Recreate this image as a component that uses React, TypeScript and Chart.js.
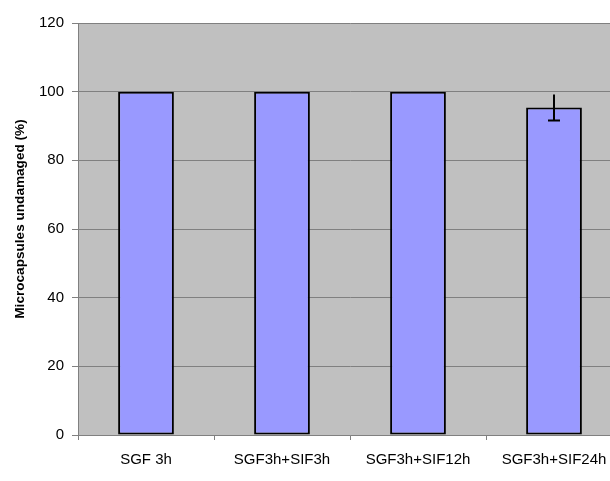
import React, { useEffect, useRef } from "react";
import { Chart, registerables } from "chart.js";

Chart.register(...registerables);

const categories = ["SGF 3h", "SGF3h+SIF3h", "SGF3h+SIF12h", "SGF3h+SIF24h"];
const undamaged = [100, 100, 100, 95.4];
const errors = [0, 0, 0, 3.8];
const yTicks = [0, 20, 40, 60, 80, 100, 120];
const yTitle = "Microcapsules undamaged (%)";

const FONT = "'Liberation Sans', Arial, sans-serif";

const bgPlugin = {
  id: "plotBg",
  beforeDraw(chart: any) {
    const { ctx, chartArea } = chart;
    ctx.save();
    ctx.fillStyle = "#c0c0c0";
    ctx.fillRect(chartArea.left, chartArea.top, chartArea.right - chartArea.left, chartArea.bottom - chartArea.top);
    ctx.restore();
  },
  afterDraw(chart: any) {
    const { ctx } = chart;
    ctx.save();
    ctx.translate(20, 219);
    ctx.rotate(-Math.PI / 2);
    ctx.fillStyle = "#000";
    ctx.font = `bold 13.6px ${FONT}`;
    ctx.textAlign = "center";
    ctx.textBaseline = "middle";
    ctx.fillText(yTitle, 0, 0);
    ctx.restore();
  },
};

const errPlugin = {
  id: "errBars",
  afterDatasetsDraw(chart: any) {
    const { ctx } = chart;
    const meta = chart.getDatasetMeta(0);
    const y = chart.scales.y;
    ctx.save();
    ctx.strokeStyle = "#000";
    ctx.lineWidth = 2;
    meta.data.forEach((bar: any, i: number) => {
      const e = errors[i];
      if (!e) return;
      const v = undamaged[i];
      const x = Math.round(bar.x);
      const yTop = y.getPixelForValue(v + e);
      const yBot = y.getPixelForValue(v - e);
      ctx.beginPath();
      ctx.moveTo(x, yTop);
      ctx.lineTo(x, yBot);
      ctx.moveTo(x - 6, yBot);
      ctx.lineTo(x + 6, yBot);
      ctx.stroke();
    });
    ctx.restore();
  },
};

export default function App() {
  const ref = useRef<HTMLCanvasElement>(null);
  useEffect(() => {
    const chart = new Chart(ref.current!, {
      type: "bar",
      data: {
        labels: categories,
        datasets: [
          {
            data: undamaged,
            backgroundColor: "#9999ff",
            borderColor: "#000000",
            borderWidth: 2,
            borderSkipped: false,
            categoryPercentage: 1,
            barPercentage: 0.41,
          },
        ],
      },
      options: {
        animation: false,
        responsive: false,
        maintainAspectRatio: false,
        layout: { padding: { top: 23, right: 0, bottom: 0, left: 0 } },
        plugins: { legend: { display: false }, tooltip: { enabled: false } },
        scales: {
          x: {
            grid: {
              offset: true,
              drawOnChartArea: false,
              drawTicks: true,
              tickLength: 5,
              color: "#808080",
            },
            border: { color: "#808080", width: 1 },
            ticks: {
              color: "#000",
              font: { family: FONT, size: 15 },
              padding: 11,
              maxRotation: 0,
              autoSkip: false,
            },
            afterFit(scale: any) {
              scale.height = 46;
            },
          },
          y: {
            min: 0,
            max: 120,
            afterBuildTicks(scale: any) {
              scale.ticks = yTicks.map((v) => ({ value: v }));
            },
            grid: { color: "#808080", tickLength: 6, drawTicks: true },
            border: { color: "#808080", width: 1 },
            ticks: {
              color: "#000",
              font: { family: FONT, size: 15 },
              padding: 8,
            },
            title: { display: false },
            afterFit(scale: any) {
              scale.width = 78;
            },
          },
        },
      },
      plugins: [bgPlugin, errPlugin],
    });
    return () => chart.destroy();
  }, []);
  return (
    <div style={{ position: "fixed", left: 0, top: 0, width: 610, height: 481, overflow: "hidden", background: "#fff" }}>
      <canvas ref={ref} width={622} height={481} style={{ display: "block", width: 622, height: 481 }} />
    </div>
  );
}
